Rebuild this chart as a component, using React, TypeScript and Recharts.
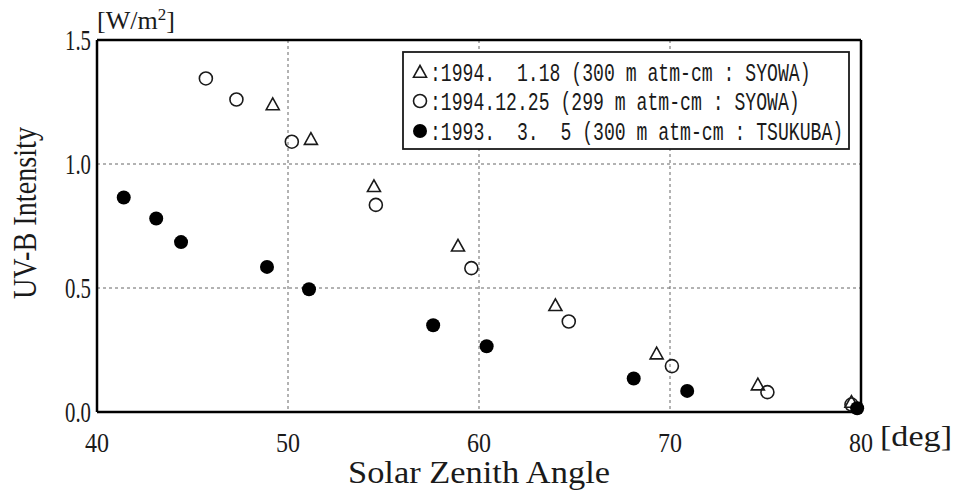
import React from 'react';
import {
  ScatterChart,
  Scatter,
  XAxis,
  YAxis,
  CartesianGrid,
  ReferenceLine,
  Label,
} from 'recharts';

// 1994.1.18 SYOWA (triangles)
const triX = [49.2, 51.2, 54.5, 58.9, 64.0, 69.3, 74.6, 79.5];
const triY = [1.24, 1.1, 0.91, 0.67, 0.43, 0.235, 0.11, 0.04];
// 1994.12.25 SYOWA (open circles)
const circX = [45.7, 47.3, 50.2, 54.6, 59.6, 64.7, 70.1, 75.1, 79.5];
const circY = [1.345, 1.26, 1.09, 0.835, 0.58, 0.365, 0.185, 0.08, 0.03];
// 1993.3.5 TSUKUBA (filled circles)
const dotX = [41.4, 43.1, 44.4, 48.9, 51.1, 57.6, 60.4, 68.1, 70.9, 79.8];
const dotY = [0.865, 0.78, 0.685, 0.585, 0.495, 0.35, 0.265, 0.135, 0.085, 0.015];

const xTicks = [40, 50, 60, 70, 80];
const yTicks = [0, 0.5, 1.0, 1.5];
const legendLines = [
  ':1994.  1.18 (300 m atm-cm : SYOWA)',
  ':1994.12.25 (299 m atm-cm : SYOWA)',
  ':1993.  3.  5 (300 m atm-cm : TSUKUBA)',
];

const zip = (xs: number[], ys: number[]) => xs.map((x, i) => ({ x, y: ys[i] }));
const triData = zip(triX, triY);
const circData = zip(circX, circY);
const dotData = zip(dotX, dotY);

const FONT = '"Liberation Serif", serif';
const INK = '#1a1a1a';

function SText({ x, y, w, size, anchor = 'start', children, rotate }: any) {
  return (
    <text
      x={x}
      y={y}
      fontFamily={FONT}
      fontSize={size}
      fill={INK}
      textAnchor={anchor}
      textLength={w}
      lengthAdjust="spacingAndGlyphs"
      transform={rotate ? `rotate(${rotate} ${x} ${y})` : undefined}
    >
      {children}
    </text>
  );
}

const Triangle = (props: any) => {
  const { cx, cy } = props;
  const s = 6.5;
  return (
    <path
      d={`M${cx},${cy - s} L${cx + s},${cy + s * 0.8} L${cx - s},${cy + s * 0.8} Z`}
      fill="none"
      stroke={INK}
      strokeWidth={1.6}
    />
  );
};

const OpenCircle = (props: any) => (
  <circle cx={props.cx} cy={props.cy} r={6.5} fill="none" stroke={INK} strokeWidth={1.6} />
);

const FilledCircle = (props: any) => (
  <circle cx={props.cx} cy={props.cy} r={7} fill="#000" />
);

const XTick = (props: any) => {
  const { x, y, payload } = props;
  return (
    <SText x={x} y={y + 32} w={24} size={28} anchor="middle">
      {payload.value}
    </SText>
  );
};

const YTick = (props: any) => {
  const { x, y, payload } = props;
  return (
    <SText x={x + 2} y={y + 10} w={26} size={30} anchor="end">
      {payload.value.toFixed(1)}
    </SText>
  );
};

const XLabel = (props: any) => {
  const { x, y, width } = props.viewBox;
  return (
    <g>
      <SText x={x + width / 2} y={y + 71} w={262} size={31} anchor="middle">
        Solar Zenith Angle
      </SText>
      <SText x={x + width + 19} y={y + 34} w={72} size={29}>
        [deg]
      </SText>
    </g>
  );
};

// legend box, drawn in chart coordinates (top-left at 402, 51)
const LegendBox = () => {
  const rowY = [30, 59, 89];
  return (
    <g transform="translate(402 51)">
      <rect x={1} y={1} width={446} height={97} fill="#fff" stroke={INK} strokeWidth={1.8} />
      <Triangle cx={18} cy={rowY[0] - 9} />
      <OpenCircle cx={18} cy={rowY[1] - 9} />
      <FilledCircle cx={18} cy={rowY[2] - 9} />
      {legendLines.map((t, i) => (
        <text
          key={i}
          transform={`translate(28 ${rowY[i]}) scale(0.725 1)`}
          fontFamily='"Liberation Mono", monospace'
          fontSize={25}
          fill={INK}
          style={{ whiteSpace: 'pre' }}
        >
          {t}
        </text>
      ))}
    </g>
  );
};

const YLabel = (props: any) => {
  const { x, y, height } = props.viewBox;
  return (
    <g>
      <SText x={x - 1} y={y + height / 2 - 13} w={172} size={34} anchor="middle" rotate={-90}>
        UV-B Intensity
      </SText>
      <text x={x + 60} y={y - 11} fontFamily={FONT} fontSize={26} fill={INK}>
        [W/m
        <tspan fontSize={17} dy={-9}>2</tspan>
        <tspan dy={9}>]</tspan>
      </text>
      <LegendBox />
    </g>
  );
};

export default function App() {
  return (
    <div style={{ position: 'absolute', left: 0, top: 0, width: 956, height: 491, background: '#fff' }}>
      <ScatterChart width={956} height={491} margin={{ top: 40, right: 95, bottom: 49, left: 37 }}>
        <CartesianGrid stroke="#666" strokeDasharray="3 3" strokeWidth={1} />
        <XAxis
          type="number"
          dataKey="x"
          domain={[40, 80]}
          ticks={xTicks}
          tick={<XTick />}
          tickLine={false}
          axisLine={{ stroke: '#000', strokeWidth: 2.5 }}
          height={30}
        >
          <Label content={<XLabel />} />
        </XAxis>
        <YAxis
          type="number"
          dataKey="y"
          domain={[0, 1.5]}
          ticks={yTicks}
          tick={<YTick />}
          tickLine={false}
          axisLine={{ stroke: '#000', strokeWidth: 2.5 }}
          width={60}
        >
          <Label content={<YLabel />} />
        </YAxis>
        <ReferenceLine x={80} stroke="#000" strokeWidth={2.5} />
        <ReferenceLine y={1.5} stroke="#000" strokeWidth={2.5} />
        <Scatter name="1994.1.18" data={triData} shape={<Triangle />} isAnimationActive={false} />
        <Scatter name="1994.12.25" data={circData} shape={<OpenCircle />} isAnimationActive={false} />
        <Scatter name="1993.3.5" data={dotData} shape={<FilledCircle />} isAnimationActive={false} />
      </ScatterChart>
    </div>
  );
}
